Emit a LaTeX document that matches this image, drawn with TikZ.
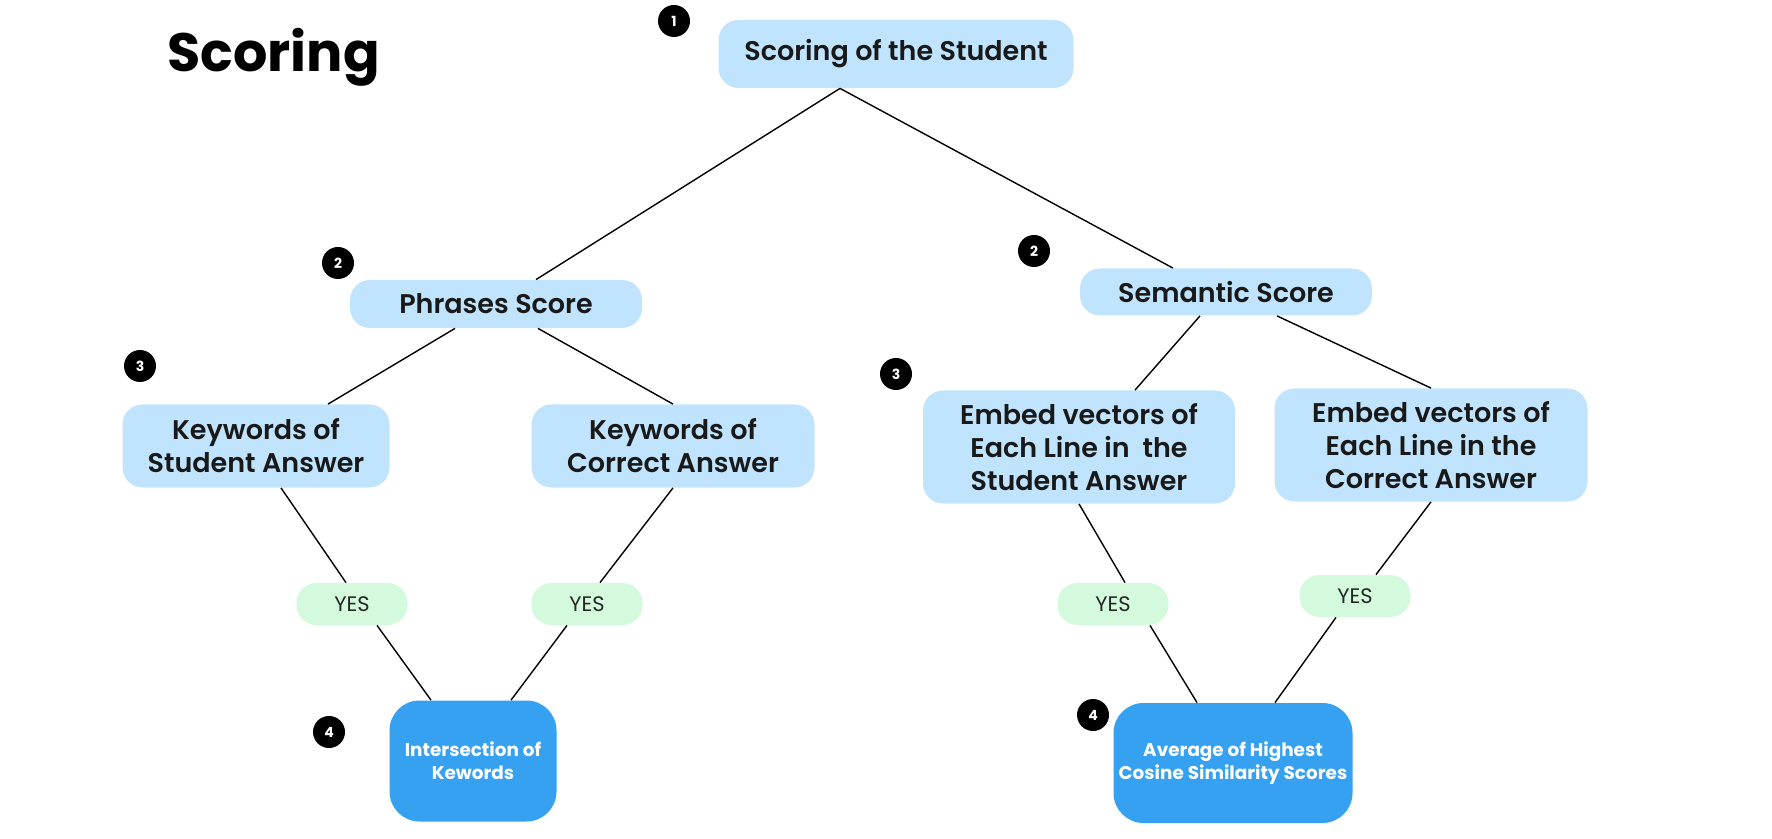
\documentclass[tikz,border=0pt]{standalone}
\usepackage{fontspec}
\setmainfont{Poppins}[UprightFont=* SemiBold, BoldFont=* Bold]
\newfontfamily\yesfont{Poppins}
\usepackage{xcolor}

\definecolor{boxblue}{HTML}{C0E4FD}
\definecolor{yesgreen}{HTML}{D4FADD}
\definecolor{darkblue}{HTML}{36A0F1}

\tikzset{
    stepbox/.style={fill=boxblue, rounded corners=10pt, align=center,
        inner sep=0pt, text=black!90, font=\fontsize{13.5}{16.5}\selectfont},
    yesbox/.style={fill=yesgreen, rounded corners=10pt, minimum width=55.5pt,
        minimum height=21pt, inner sep=0pt, text=black!85,
        font=\yesfont\fontsize{10.5}{12}\selectfont},
    resultbox/.style={fill=darkblue, rounded corners=15pt, align=center,
        inner sep=0pt, text=white, font=\bfseries\fontsize{9.2}{11.5}\selectfont},
    badge/.style={circle, fill=black, text=white, minimum size=16pt,
        inner sep=0pt, font=\bfseries\fontsize{7}{8}\selectfont},
    link/.style={black, line width=0.7pt}
}

\begin{document}
\begin{tikzpicture}[x=0.5pt, y=-0.5pt]
    \useasboundingbox (0,0) rectangle (1772,839);

    % Title
    \node (title) [anchor=base west, inner sep=0pt,
        font=\bfseries\fontsize{27}{30}\selectfont] at (167,72) {Scoring};

    % Top level
    \node (root) [stepbox, minimum width=177.5pt, minimum height=34pt]
        at (896,54) {Scoring of the Student};

    % Scores
    \node (phrases) [stepbox, minimum width=146pt, minimum height=24pt]
        at (496,304) {Phrases Score};
    \node (semantic) [stepbox, minimum width=146pt, minimum height=23.5pt]
        at (1226,292) {Semantic Score};

    % Keywords and embeddings
    \node (kwstudent) [stepbox, minimum width=133.5pt, minimum height=41.5pt]
        at (256,446) {Keywords of\\Student Answer};
    \node (kwcorrect) [stepbox, minimum width=141.5pt, minimum height=41.5pt]
        at (673,446) {Keywords of\\Correct Answer};
    \node (embstudent) [stepbox, minimum width=156pt, minimum height=56.5pt]
        at (1079,447) {Embed vectors of\\Each Line in\ \ the\\Student Answer};
    \node (embcorrect) [stepbox, minimum width=156.5pt, minimum height=56.5pt]
        at (1431,445) {Embed vectors of\\Each Line in the\\Correct Answer};

    % YES labels
    \node (yesa) [yesbox] at (352,604) {YES};
    \node (yesb) [yesbox] at (587,604) {YES};
    \node (yesc) [yesbox] at (1113,604) {YES};
    \node (yesd) [yesbox] at (1355,596) {YES};

    % Results
    \node (inter) [resultbox, minimum width=83.5pt, minimum height=60.5pt]
        at (473,761) {Intersection of\\Kewords};
    \node (average) [resultbox, minimum width=119.5pt, minimum height=60pt]
        at (1233,763) {Average of Highest\\Cosine Similarity Scores};

    % Step badges
    \node (one) [badge] at (674,21) {1};
    \node (twoleft) [badge] at (338,263) {2};
    \node (tworight) [badge] at (1034,251) {2};
    \node (threeleft) [badge] at (140,366) {3};
    \node (threeright) [badge] at (896,374) {3};
    \node (fourleft) [badge] at (329,732) {4};
    \node (fourright) [badge] at (1093,715) {4};

    % Tree lines
    \draw [link] ([xshift=-28pt]root.south) -- ([xshift=20pt]phrases.north);
    \draw [link] ([xshift=-28pt]root.south) -- ([xshift=-26.5pt]semantic.north);
    \draw [link] ([xshift=-20.5pt]phrases.south) -- ([xshift=36pt]kwstudent.north);
    \draw [link] ([xshift=21pt]phrases.south) -- (kwcorrect.north);
    \draw [link] ([xshift=-13pt]semantic.south) -- ([xshift=28pt]embstudent.north);
    \draw [link] ([xshift=25.5pt]semantic.south) -- (embcorrect.north);

    % Phrases branch
    \draw [link] ([xshift=12.5pt]kwstudent.south) -- ([xshift=-3pt]yesa.north);
    \draw [link] ([xshift=12.5pt]yesa.south) -- ([xshift=-21pt]inter.north);
    \draw [link] (kwcorrect.south) -- ([xshift=6.5pt]yesb.north);
    \draw [link] ([xshift=-10pt]yesb.south) -- ([xshift=19pt]inter.north);

    % Semantic branch
    \draw [link] (embstudent.south) -- ([xshift=6pt]yesc.north);
    \draw [link] ([xshift=18.5pt]yesc.south) -- ([xshift=-18pt]average.north);
    \draw [link] (embcorrect.south) -- ([xshift=10.5pt]yesd.north);
    \draw [link] ([xshift=-9.5pt]yesd.south) -- ([xshift=21pt]average.north);
\end{tikzpicture}
\end{document}
